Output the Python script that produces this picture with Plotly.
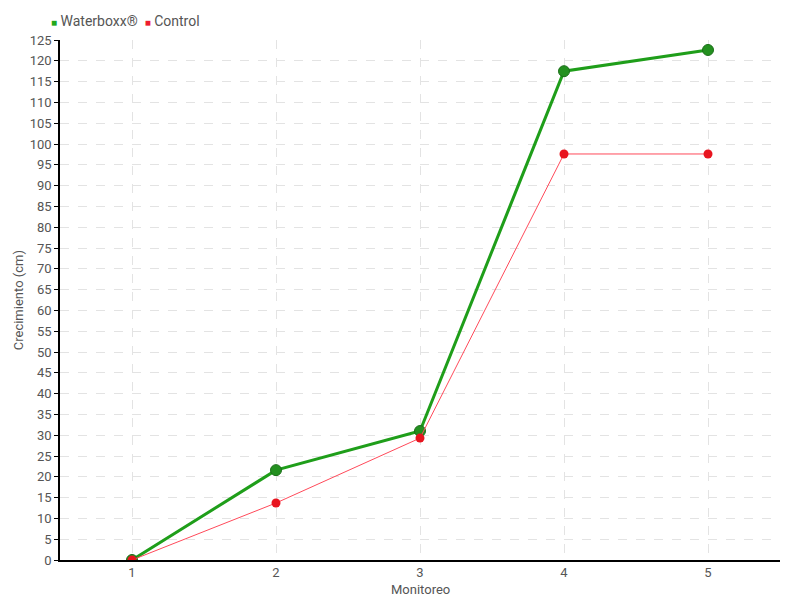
import plotly.graph_objects as go

monitoreo = [1, 2, 3, 4, 5]
waterboxx = [0, 21.6, 31, 117.5, 122.6]
control = [0, 13.7, 29.3, 97.6, 97.6]
y_ticks = list(range(0, 130, 5))
series_names = ["Waterboxx®", "Control"]

FONT = "Roboto, sans-serif"
GREEN_LINE = "#1f9e1a"
GREEN_MARK = "#23901f"
RED_LINE = "#ff4a5a"
RED_MARK = "#e8141f"

fig = go.Figure()
fig.add_trace(go.Scatter(
    x=monitoreo, y=waterboxx, name=series_names[0], mode="lines+markers",
    line=dict(color=GREEN_LINE, width=3), showlegend=False,
    marker=dict(size=11, color=GREEN_MARK, line=dict(color="#1a6e18", width=1)),
))
fig.add_trace(go.Scatter(
    x=monitoreo, y=control, name=series_names[1], mode="lines+markers",
    line=dict(color=RED_LINE, width=1), showlegend=False,
    marker=dict(size=9, color=RED_MARK, line=dict(width=0)),
))

# legend drawn as text with colored square swatches (top-left)
legend_text = (
    "<span style='color:#22a81c;font-size:10px'>■</span> " + series_names[0]
    + "  <span style='color:#ee1c2e;font-size:10px'>■</span> " + series_names[1]
)
fig.add_annotation(text=legend_text, xref="paper", yref="paper",
                   x=-0.0153, y=1.0365, xanchor="left", yanchor="middle",
                   showarrow=False, font=dict(size=14, color="#555555", family=FONT))

# axis titles as annotations to place them like the reference
fig.add_annotation(text="Monitoreo", xref="paper", yref="paper",
                   x=0.5, y=-0.0558, xanchor="center", yanchor="middle",
                   showarrow=False, font=dict(size=13, color="#555555", family=FONT))
fig.add_annotation(text="Crecimiento (cm)", xref="paper", yref="paper",
                   x=-0.058, y=0.5, xanchor="center", yanchor="middle", textangle=-90,
                   showarrow=False, font=dict(size=13, color="#555555", family=FONT))

fig.update_layout(
    width=800, height=600,
    margin=dict(l=52, r=28, t=32, b=48, autoexpand=False),
    paper_bgcolor="white", plot_bgcolor="white",
    font=dict(family=FONT, size=14, color="#555555"),
    showlegend=False,
    xaxis=dict(
        range=[0.5, 5.5], tickmode="array", tickvals=monitoreo,
        ticktext=[str(v) for v in monitoreo], automargin=False,
        showline=True, linecolor="black", linewidth=1.5,
        ticks="", ticklen=0,
        showgrid=True, gridcolor="#e3e3e3", griddash="dash", zeroline=False,
        tickfont=dict(size=13),
    ),
    yaxis=dict(
        range=[0, 125], tickmode="array", tickvals=y_ticks, automargin=False,
        showline=True, linecolor="black", linewidth=1.5,
        ticks="outside", ticklen=4, tickcolor="black",
        showgrid=True, gridcolor="#e3e3e3", griddash="dash", zeroline=False,
        tickfont=dict(size=13),
    ),
)

fig.write_html("out.html")
